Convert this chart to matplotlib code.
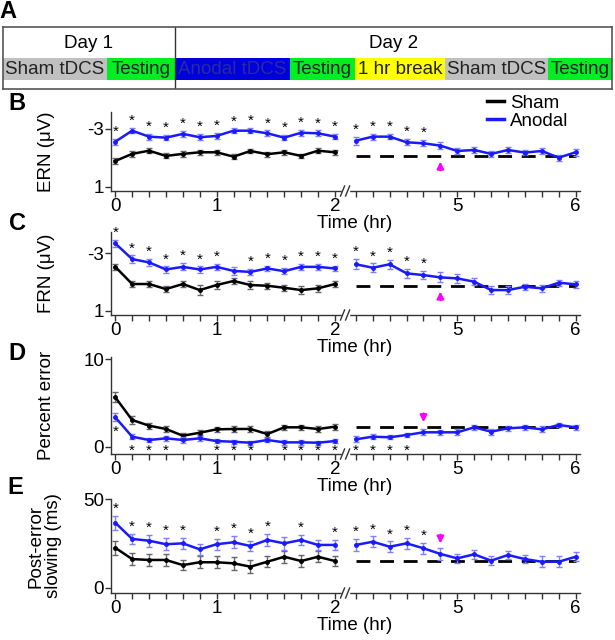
import matplotlib.pyplot as plt
import numpy as np
from matplotlib.patches import Rectangle

plt.rcParams['font.family'] = ['Liberation Sans', 'DejaVu Sans']

# ---- panel A: protocol ----
day_names = ['Day 1', 'Day 2']
block_names = ['Sham tDCS', 'Testing', 'Anodal tDCS', 'Testing', '1 hr break', 'Sham tDCS', 'Testing']
block_widths = [104, 68, 115, 65, 90, 103, 64]
block_colors = ['#c0c0c0', '#00ee22', '#0000dd', '#00ee22', '#ffff00', '#c0c0c0', '#00ee22']
block_text = ['#222222', '#222222', '#2a2aa0', '#222222', '#222222', '#222222', '#222222']

# ---- time axis (10 min bins) ----
n_bins = 14
tick_labels_day1 = {0: '0', 6: '1', 13: '2'}
tick_labels_day2 = {6: '5', 13: '6'}

# ---- B: ERN (uV) ----
ern_sham = [-0.79, -1.28, -1.50, -1.14, -1.28, -1.39, -1.39, -1.09, -1.48, -1.26, -1.39, -1.14, -1.50, -1.39]
ern_sham_err = [0.20, 0.18, 0.17, 0.17, 0.18, 0.16, 0.17, 0.18, 0.17, 0.18, 0.18, 0.16, 0.17, 0.16]
ern_anodal = [-2.12, -2.88, -2.47, -2.40, -2.66, -2.43, -2.52, -2.88, -2.88, -2.70, -2.40, -2.74, -2.70, -2.47]
ern_anodal_err = [0.22, 0.17, 0.20, 0.18, 0.22, 0.22, 0.20, 0.16, 0.17, 0.20, 0.18, 0.22, 0.20, 0.18]
ern_anodal2 = [-2.19, -2.47, -2.47, -2.08, -2.01, -1.85, -1.48, -1.55, -1.28, -1.55, -1.37, -1.48, -1.02, -1.39]
ern_anodal2_err = [0.28, 0.20, 0.18, 0.22, 0.22, 0.25, 0.20, 0.22, 0.20, 0.22, 0.20, 0.22, 0.20, 0.25]
ern_sham_ref = -1.16

# ---- C: FRN (uV) ----
frn_sham = [-2.07, -0.87, -0.87, -0.52, -0.87, -0.45, -0.80, -1.08, -0.80, -0.75, -0.61, -0.45, -0.57, -0.87]
frn_sham_err = [0.22, 0.20, 0.22, 0.20, 0.20, 0.35, 0.30, 0.20, 0.25, 0.20, 0.22, 0.25, 0.22, 0.20]
frn_anodal = [-3.69, -2.60, -2.37, -1.88, -2.06, -1.88, -2.06, -1.78, -1.71, -1.95, -1.76, -2.06, -2.06, -1.95]
frn_anodal_err = [0.22, 0.25, 0.22, 0.22, 0.25, 0.22, 0.22, 0.25, 0.22, 0.20, 0.22, 0.20, 0.20, 0.18]
frn_anodal2 = [-2.24, -2.00, -2.24, -1.61, -1.49, -1.33, -1.26, -1.03, -0.45, -0.45, -0.68, -0.57, -0.96, -0.85]
frn_anodal2_err = [0.35, 0.30, 0.30, 0.30, 0.30, 0.35, 0.30, 0.25, 0.30, 0.25, 0.22, 0.25, 0.22, 0.25]
frn_sham_ref = -0.75

# ---- D: percent error ----
err_sham = [5.66, 3.06, 2.41, 2.03, 1.26, 1.60, 1.99, 2.03, 2.03, 1.45, 2.22, 2.22, 2.03, 2.29]
err_sham_err = [0.60, 0.50, 0.35, 0.30, 0.30, 0.30, 0.30, 0.30, 0.30, 0.35, 0.30, 0.30, 0.30, 0.35]
err_anodal = [3.37, 1.15, 0.77, 0.96, 0.77, 0.96, 0.65, 0.57, 0.46, 0.77, 0.50, 0.50, 0.46, 0.65]
err_anodal_err = [0.45, 0.30, 0.25, 0.25, 0.35, 0.25, 0.25, 0.25, 0.25, 0.25, 0.25, 0.25, 0.25, 0.25]
err_anodal2 = [0.85, 1.15, 1.08, 1.34, 1.65, 1.65, 1.65, 2.22, 1.72, 2.11, 2.22, 1.99, 2.49, 2.22]
err_anodal2_err = [0.35, 0.30, 0.25, 0.25, 0.35, 0.30, 0.35, 0.25, 0.35, 0.30, 0.30, 0.35, 0.25, 0.30]
err_sham_ref = 2.29

# ---- E: post-error slowing (ms) ----
pes_sham = [22.6, 16.2, 15.7, 15.7, 12.8, 14.4, 14.4, 13.8, 11.9, 14.7, 17.5, 15.1, 17.5, 15.1]
pes_sham_err = [4.0, 3.5, 3.5, 3.5, 3.0, 3.5, 3.5, 3.5, 3.5, 3.0, 3.5, 3.5, 3.0, 3.0]
pes_anodal = [36.8, 27.6, 26.6, 24.6, 25.1, 21.7, 24.6, 25.7, 23.6, 27.0, 25.1, 27.0, 24.2, 24.2]
pes_anodal_err = [4.0, 3.0, 3.5, 3.5, 3.0, 3.0, 3.0, 3.5, 3.0, 3.5, 3.5, 3.0, 3.0, 3.0]
pes_anodal2 = [24.2, 26.0, 23.2, 25.1, 22.3, 19.1, 16.6, 18.9, 15.3, 18.5, 16.2, 14.7, 14.7, 17.5]
pes_anodal2_err = [3.5, 3.0, 3.0, 3.0, 3.0, 3.5, 2.5, 2.5, 2.5, 2.5, 2.5, 3.0, 3.0, 2.5]
pes_sham_ref = 15.1

# significance stars (bin indices) and pink arrows (bin index, tail, tip)
stars = {
    'B': ([0, 1, 2, 3, 4, 5, 6, 7, 8, 9, 10, 11, 12, 13], [0, 1, 2, 3, 4]),
    'C': ([0, 1, 2, 3, 4, 5, 6, 8, 9, 10, 11, 12, 13], [0, 1, 2, 3, 4]),
    'D': ([0, 1, 2, 3, 6, 7, 8, 10, 11, 12, 13], [0, 1, 2, 3]),
    'E': ([0, 1, 2, 3, 4, 6, 7, 8, 9, 11, 13], [0, 1, 2, 3, 4]),
}
arrows = {'B': (5, -0.15, -0.75), 'C': (5, 0.25, -0.35), 'D': (4, 3.8, 2.8), 'E': (5, 30.0, 25.0)}

W, H = 615, 640
fig = plt.figure(figsize=(W / 100, H / 100), dpi=100)


def box(x0, y0, x1, y1):
    return [x0 / W, 1 - y1 / H, (x1 - x0) / W, (y1 - y0) / H]


BLUE = '#1a1aff'
LBLUE = '#7f7fff'
SPINE = '#333333'

# ---------------- panel A ----------------
axA = fig.add_axes(box(3, 27, 612, 89))
axA.set_xlim(0, sum(block_widths))
axA.set_ylim(0, 1)
left = 0
for name, w, c, tc in zip(block_names, block_widths, block_colors, block_text):
    axA.add_patch(Rectangle((left, 0.145), w, 0.355, color=c, lw=0))
    axA.text(left + w / 2, 0.32, name, ha='center', va='center', fontsize=13.5, color=tc)
    left += w
split = block_widths[0] + block_widths[1]
axA.axvline(split, color=SPINE, lw=1)
axA.text(split / 2, 0.74, day_names[0], ha='center', va='center', fontsize=13.5)
axA.text((split + sum(block_widths)) / 2, 0.74, day_names[1], ha='center', va='center', fontsize=13.5)
axA.set_xticks([])
axA.set_yticks([])
for s in axA.spines.values():
    s.set_color('#555555')
    s.set_linewidth(1.2)

x1 = np.arange(n_bins)
x2 = np.arange(n_bins) + n_bins + 0.24


def panel(rect, key, sham, sham_e, anod, anod_e, anod2, anod2_e, ref, ylim, yticks, ylabel, stars_below=False):
    ax = fig.add_axes(box(*rect))
    ax.errorbar(x1, sham, yerr=sham_e, color='black', ecolor='#666666', lw=1.8, elinewidth=1,
                capsize=2, marker='o', ms=2.5, zorder=3)
    ax.errorbar(x1, anod, yerr=anod_e, color=BLUE, ecolor=LBLUE, lw=1.8, elinewidth=1,
                capsize=2, marker='o', ms=2.5, zorder=4)
    ax.plot([x2[0], x2[-1]], [ref, ref], color='black', lw=2, dashes=(5, 3.5), zorder=3)
    ax.errorbar(x2, anod2, yerr=anod2_e, color=BLUE, ecolor=LBLUE, lw=1.8, elinewidth=1,
                capsize=2, marker='o', ms=2.5, zorder=4)
    ax.set_xlim(-0.25, 27.5)
    ax.set_ylim(*ylim)
    ax.set_yticks(yticks)
    ax.set_yticklabels([str(t) for t in yticks])

    pos = list(x1) + list(x2)
    labs = [tick_labels_day1.get(i, '') for i in range(n_bins)] + \
           [tick_labels_day2.get(i, '') for i in range(n_bins)]
    ax.set_xticks(pos)
    ax.set_xticklabels(labs)
    ax.tick_params(labelsize=13.5, length=4, width=1, color=SPINE, pad=1)
    for s in ['top', 'right']:
        ax.spines[s].set_visible(False)
    for s in ['left', 'bottom']:
        ax.spines[s].set_color(SPINE)
        ax.spines[s].set_linewidth(1)
    ax.set_xlabel('Time (hr)', fontsize=13.5, labelpad=0)
    ax.xaxis.set_label_coords(0.52, -0.31 * 79 / (rect[3] - rect[1]))
    ax.set_ylabel(ylabel, fontsize=13.5, linespacing=1.0)

    # axis break
    tr = ax.get_xaxis_transform()
    hh = 5 / (rect[3] - rect[1])
    ax.add_patch(Rectangle((13.42, -0.02), 0.4, 0.04, transform=tr, color='white',
                           clip_on=False, zorder=5))
    for xb in (13.45, 13.75):
        ax.plot([xb - 0.12, xb + 0.12], [-hh, hh], transform=tr, color=SPINE, lw=1,
                clip_on=False, zorder=6)

    # stars
    sl, sr = stars[key]
    pts = [(x1[i], anod[i], anod_e[i]) for i in sl] + [(x2[i], anod2[i], anod2_e[i]) for i in sr]
    for x, y, e in pts:
        if not stars_below:
            yy = y - e if ylim[0] > ylim[1] else y + e
            ax.annotate('*', (x, yy), xytext=(0, 0), textcoords='offset points',
                        ha='center', va='bottom', fontsize=11)
        elif x == x1[0]:
            ax.annotate('*', (x, y - e), xytext=(0, -13), textcoords='offset points',
                        ha='center', va='bottom', fontsize=11)
        else:
            ax.annotate('*', (x, ylim[0]), xytext=(0, -3), textcoords='offset points',
                        ha='center', va='bottom', fontsize=11, annotation_clip=False)

    ia, tail, tip = arrows[key]
    ax.annotate('', xy=(x2[ia], tip), xytext=(x2[ia], tail),
                arrowprops=dict(arrowstyle='-|>', color='#ff00ff', lw=1.6, mutation_scale=10,
                                shrinkA=0, shrinkB=0))
    return ax


axB = panel((111, 112, 580, 191), 'B', ern_sham, ern_sham_err, ern_anodal, ern_anodal_err,
            ern_anodal2, ern_anodal2_err, ern_sham_ref, (1.28, -4.17), [-3, 1], 'ERN (\u03bcV)')
axC = panel((111, 232, 580, 315), 'C', frn_sham, frn_sham_err, frn_anodal, frn_anodal_err,
            frn_anodal2, frn_anodal2_err, frn_sham_ref, (1.28, -4.48), [-3, 1], 'FRN (\u03bcV)')
axD = panel((111, 357, 580, 454), 'D', err_sham, err_sham_err, err_anodal, err_anodal_err,
            err_anodal2, err_anodal2_err, err_sham_ref, (-0.83, 10.26), [0, 10], 'Percent error',
            stars_below=True)
axE = panel((111, 499, 580, 593), 'E', pes_sham, pes_sham_err, pes_anodal, pes_anodal_err,
            pes_anodal2, pes_anodal2_err, pes_sham_ref, (-3.0, 50.2), [0, 50],
            'Post-error\nslowing (ms)')

for ax, xl in [(axB, -0.12), (axC, -0.12), (axD, -0.12), (axE, -0.105)]:
    ax.yaxis.set_label_coords(xl, 0.5)

axB.legend(handles=[plt.Line2D([], [], color='black', lw=2.5), plt.Line2D([], [], color=BLUE, lw=2.5)],
           labels=['Sham', 'Anodal'], loc='upper right', bbox_to_anchor=(0.975, 1.22),
           frameon=False, fontsize=13.5, handlelength=0.9, handletextpad=0.3, labelspacing=0.05,
           borderpad=0, borderaxespad=0)

for letter, (px_, py_) in zip('ABCDE', [(8, 12), (17, 103), (17, 224), (17, 353), (15, 488)]):
    fig.text(px_ / W, 1 - py_ / H, letter, fontsize=17, fontweight='bold', ha='center', va='center')

fig.savefig('out.png', dpi=100)
